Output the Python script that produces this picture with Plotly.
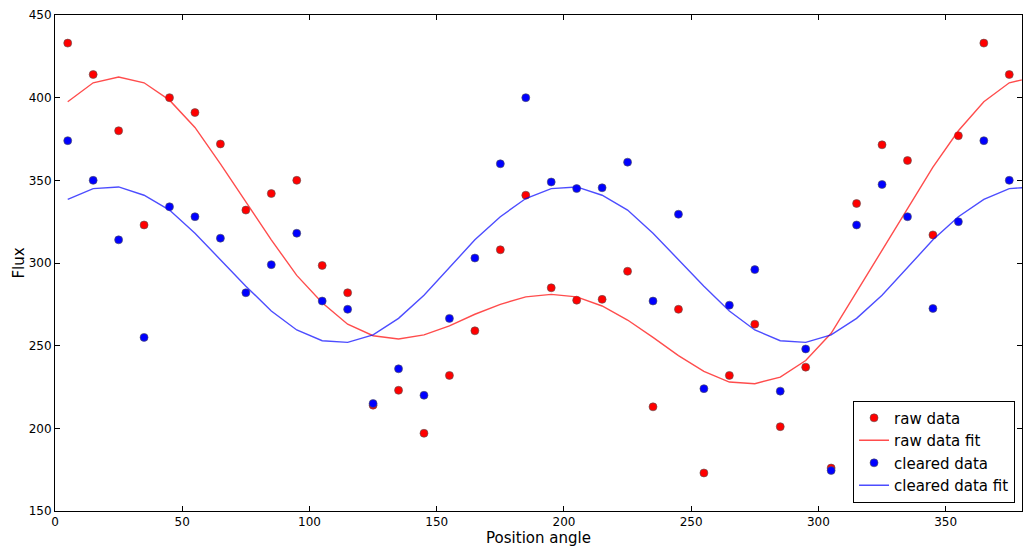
import plotly.graph_objects as go

angle = [5, 15, 25, 35, 45, 55, 65, 75, 85, 95, 105, 115, 125, 135, 145, 155, 165, 175, 185,
         195, 205, 215, 225, 235, 245, 255, 265, 275, 285, 295, 305, 315, 325, 335, 345, 355, 365, 375]

raw_data = [433, 414, 380, 323, 400, 391, 372, 332, 342, 350, 298.5, 282, 214, 223, 197, 232, 259, 308, 341,
            285, 277.5, 278, 295, 213, 272, 173, 232, 263, 201, 237, 176, 336, 371.5, 362, 317, 377, 433, 414]

cleared_data = [374, 350, 314, 255, 334, 328, 315, 282, 299, 318, 277, 272, 215, 236, 220, 266.5, 303, 360, 400,
                349, 345, 345.5, 361, 277, 329.5, 224, 274.5, 296, 222.5, 248, 174.5, 323, 347.5, 328, 272.5, 325, 374, 350]

fit_angle = [5, 15, 25, 35, 45, 55, 65, 75, 85, 95, 105, 115, 125, 135, 145, 155, 165, 175, 185,
             195, 205, 215, 225, 235, 245, 255, 265, 275, 285, 295, 305, 315, 325, 335, 345, 355, 365, 375, 385]

raw_fit = [397.5, 409, 412.5, 409, 398.5, 382, 360, 337, 314, 292.5, 276, 263, 256, 254, 256.5, 262, 269, 275, 279.5,
           281, 279.5, 274, 265.5, 255, 244, 234.5, 228, 227, 231, 241, 257.5, 282.5, 307.5, 332.5, 358, 380, 397.5, 409, 412.5]

cleared_fit = [338.5, 345, 346, 341, 332, 318, 302, 286, 271, 259.5, 253, 252, 256.5, 266.5, 280.5, 297, 314, 328, 339,
               345, 346, 341, 332, 318, 302, 286, 271, 259.5, 253, 252, 256.5, 266.5, 280.5, 297, 314, 328, 338.5, 345, 346]

FONT = "DejaVu Sans"

fig = go.Figure()
fig.add_trace(go.Scatter(x=angle, y=raw_data, mode="markers", name="raw data",
                         marker=dict(color="#ff0000", size=8, line=dict(color="#555555", width=0.6))))
fig.add_trace(go.Scatter(x=fit_angle, y=raw_fit, mode="lines", name="raw data fit",
                         line=dict(color="rgba(255,0,0,0.7)", width=1.4)))
fig.add_trace(go.Scatter(x=angle, y=cleared_data, mode="markers", name="cleared data",
                         marker=dict(color="#0000ff", size=8, line=dict(color="#555555", width=0.6))))
fig.add_trace(go.Scatter(x=fit_angle, y=cleared_fit, mode="lines", name="cleared data fit",
                         line=dict(color="rgba(0,0,255,0.7)", width=1.4)))

axis_common = dict(
    showgrid=False, zeroline=False, showline=True, linecolor="black", linewidth=1,
    mirror="ticks", ticks="inside", ticklen=5, tickcolor="black", tickwidth=1,
    tickfont=dict(family=FONT, size=12, color="black"),
)

fig.update_xaxes(range=[0, 380], dtick=50, tick0=0,
                 title=dict(text="Position angle", font=dict(family=FONT, size=15, color="black"), standoff=4),
                 **axis_common)
fig.update_yaxes(range=[150, 450], dtick=50, tick0=150,
                 title=dict(text="Flux", font=dict(family=FONT, size=15, color="black"), standoff=0),
                 **axis_common)

fig.update_layout(
    width=1024, height=551,
    margin=dict(l=55, r=2, t=15, b=40),
    plot_bgcolor="white", paper_bgcolor="white",
    font=dict(family=FONT, color="black"),
    legend=dict(x=0.9928, y=0.017, xanchor="right", yanchor="bottom",
                bgcolor="white", bordercolor="black", borderwidth=1,
                font=dict(family=FONT, size=15, color="black"), tracegroupgap=0),
    showlegend=True,
)

fig.write_html("out.html")
